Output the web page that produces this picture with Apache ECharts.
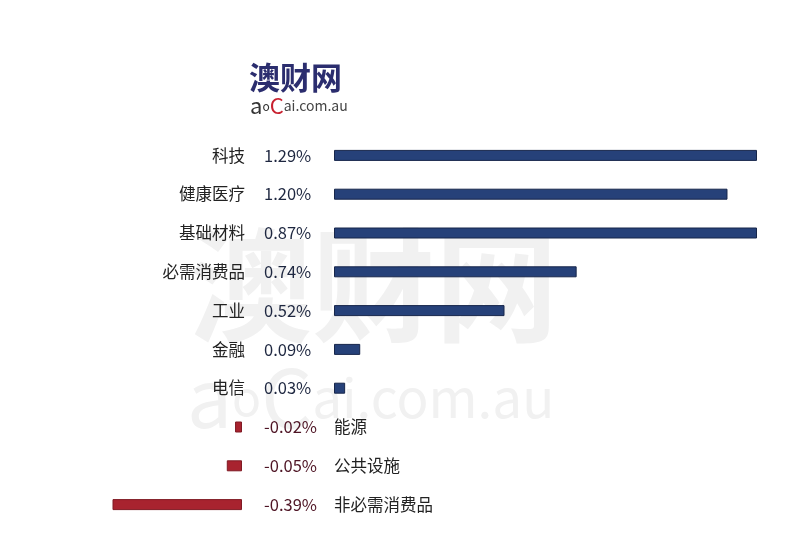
<!DOCTYPE html>
<html><head><meta charset="utf-8">
<script src="https://cdn.jsdelivr.net/npm/echarts@6/dist/echarts.min.js"></script>
<style>html,body{margin:0;padding:0;background:#fff}#c{width:800px;height:550px}</style>
</head><body><div id="c"></div>
<script>
const categories = ['科技','健康医疗','基础材料','必需消费品','工业','金融','电信','能源','公共设施','非必需消费品'];
const pctLabels = ['1.29%','1.20%','0.87%','0.74%','0.52%','0.09%','0.03%','-0.02%','-0.05%','-0.39%'];
// bar lengths as drawn in the picture
const posBars = [1.29, 1.20, 1.29, 0.74, 0.52, 0.08, 0.034, null, null, null];
const negBars = [null, null, null, null, null, null, null, -0.021, -0.046, -0.395];

const chart = echarts.init(document.getElementById('c'), null, {renderer:'canvas'});
const FONT = '"Noto Sans CJK SC", "Noto Sans", sans-serif';
const isNeg = i => negBars[i] != null;

const gTop = 136, gHeight = 388;
function catAxis(grid, position, margin, align, formatter, color, size) {
  return {gridIndex:grid, type:'category', data:categories, inverse:true, position:position,
    axisLine:{show:false}, axisTick:{show:false}, splitLine:{show:false},
    axisLabel:{margin:margin, align:align, formatter:formatter, color:color,
      fontSize:size, fontFamily:FONT}};
}
chart.setOption({
  animation:false,
  backgroundColor:'#fff',
  graphic:[
    {type:'text', left:189, top:224, z:0, style:{text:'澳财网', font:'bold 123px '+FONT, fill:'#f1f1f1'}},
    {type:'text', left:187, top:358, z:0, style:{
      text:'{a|a}{o|o}{c|C}{r|ai.com.au}', fill:'#f1f1f1',
      rich:{a:{fontSize:80, fontFamily:FONT, fill:'#f1f1f1'}, o:{fontSize:48, fontFamily:FONT, fill:'#f1f1f1'},
            c:{fontSize:80, fontFamily:FONT, fill:'#f1f1f1'}, r:{fontSize:53, fontFamily:FONT, fill:'#f1f1f1'}}}},
    {type:'text', left:249, top:62, z:10, style:{text:'澳财网', font:'bold 31px '+FONT, fill:'#2b2d6e'}},
    {type:'text', left:250, top:95, z:10, style:{
      text:'{a|a}{o|o}{c|C}{r|ai.com.au}',
      rich:{a:{fontSize:22, fontFamily:FONT, fill:'#333'}, o:{fontSize:12, fontFamily:FONT, fill:'#333'},
            c:{fontSize:22, fontFamily:FONT, fill:'#c8202f'}, r:{fontSize:14, fontFamily:FONT, fill:'#444'}}}}
  ],
  grid:[
    {left:334, right:43, top:gTop, height:gHeight},
    {left:113, width:129, top:gTop, height:gHeight}
  ],
  xAxis:[
    {gridIndex:0, type:'value', min:0, max:1.29, show:false},
    {gridIndex:1, type:'value', min:-0.39, max:0, show:false}
  ],
  yAxis:[
    catAxis(0, 'left', 89, 'right', (v, i) => isNeg(i) ? '' : v, '#222', 16.5),
    catAxis(0, 'left', 70, 'left', (v, i) => isNeg(i) ? '' : pctLabels[i], '#1e2740', 16.5),
    catAxis(1, 'right', 22, 'left', (v, i) => isNeg(i) ? pctLabels[i] : '', '#4e1424', 16.5),
    catAxis(1, 'right', 92, 'left', (v, i) => isNeg(i) ? v : '', '#222', 16.5)
  ],
  series:[
    {type:'bar', xAxisIndex:0, yAxisIndex:0, data:posBars, barWidth:11, z:5,
     itemStyle:{color:'#264179', borderColor:'#17264a', borderWidth:1}},
    {type:'bar', xAxisIndex:1, yAxisIndex:2, data:negBars, barWidth:11, z:5,
     itemStyle:{color:'#a8232f', borderColor:'#7f1a24', borderWidth:1}}
  ]
});
</script></body></html>
